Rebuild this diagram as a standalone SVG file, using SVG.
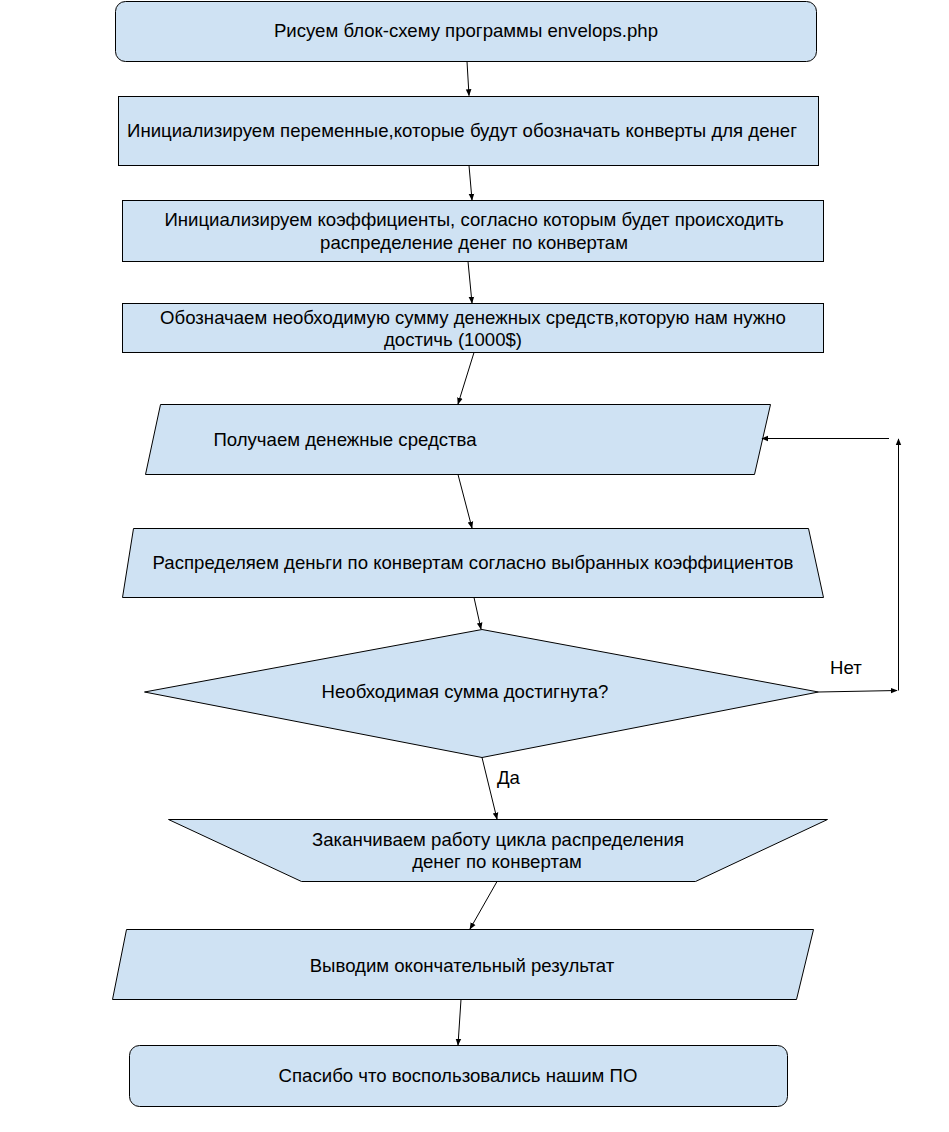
<svg xmlns="http://www.w3.org/2000/svg" width="949" height="1132" viewBox="0 0 949 1132">
<defs>
<marker id="ah" viewBox="0 0 10 10" refX="9" refY="5" markerWidth="7" markerHeight="7" orient="auto" markerUnits="userSpaceOnUse">
<path d="M0,1 L10,5 L0,9 z" fill="#000"/>
</marker>
<style>
.s{fill:#cfe2f3;stroke:#000;stroke-width:1}
.t{font-family:"Liberation Sans",Arial,sans-serif;font-size:18.6px;fill:#000;text-anchor:middle}
.l{font-family:"Liberation Sans",Arial,sans-serif;font-size:18.6px;fill:#000}
.c{fill:none;stroke:#000;stroke-width:1;marker-end:url(#ah)}
</style>
</defs>
<rect width="949" height="1132" fill="#fff"/>
<g id="n1"><rect class="s" x="115.5" y="1.5" width="701" height="60" rx="10"/><text class="t" x="466" y="37">Рисуем блок-схему программы envelops.php</text></g>
<g id="n2"><rect class="s" x="118.5" y="96.5" width="700" height="69"/><text class="t" x="462" y="137">Инициализируем переменные,которые будут обозначать конверты для денег</text></g>
<g id="n3"><rect class="s" x="122.5" y="200.5" width="701" height="61"/><text class="t" x="474" y="226">Инициализируем коэффициенты, согласно которым будет происходить</text><text class="t" x="474" y="249">распределение денег по конвертам</text></g>
<g id="n4"><rect class="s" x="122.5" y="303.5" width="701" height="49"/><text class="t" x="473" y="324">Обозначаем необходимую сумму денежных средств,которую нам нужно</text><text class="t" x="453" y="346">достичь (1000$)</text></g>
<g id="n5"><polygon class="s" points="160.5,404.5 770.5,404.5 754.5,474.5 145.5,474.5"/><text class="t" x="345" y="446">Получаем денежные средства</text></g>
<g id="n6"><polygon class="s" points="133.5,528.5 808.5,528.5 823.5,597.5 122.5,597.5"/><text class="t" x="473" y="569">Распределяем деньги по конвертам согласно выбранных коэффициентов</text></g>
<g id="n7"><polygon class="s" points="482,629.5 818.5,692 482,757.5 144.5,692"/><text class="t" x="465" y="698">Необходимая сумма достигнута?</text></g>
<g id="n8"><polygon class="s" points="168.5,819.5 827.5,819.5 695.5,881.5 301.5,881.5"/><text class="t" x="498" y="846">Заканчиваем работу цикла распределения</text><text class="t" x="497" y="868">денег по конвертам</text></g>
<g id="n9"><polygon class="s" points="126.5,929.5 813.5,929.5 796.5,999.5 112.5,999.5"/><text class="t" x="462" y="972">Выводим окончательный результат</text></g>
<g id="n10"><rect class="s" x="129.5" y="1045.5" width="658" height="61" rx="10"/><text class="t" x="458" y="1082">Спасибо что воспользовались нашим ПО</text></g>
<g id="connectors">
<path class="c" d="M467,61.5 L469,95.5"/>
<path class="c" d="M469,165.5 L472,200"/>
<path class="c" d="M468,261.5 L472,303"/>
<path class="c" d="M474,352.5 L458,404"/>
<path class="c" d="M458,474.5 L472,528"/>
<path class="c" d="M474,597.5 L481,629"/>
<path class="c" d="M482,757.5 L497,819"/>
<path class="c" d="M497,881.5 L470,929"/>
<path class="c" d="M461,999.5 L458,1045"/>
<path class="c" d="M818.5,692 L897,690.5"/>
<path class="c" d="M898.5,690.5 L898.5,439"/>
<path class="c" d="M889,438.5 L762,438.5"/>
<text class="l" x="830" y="674">Нет</text>
<text class="l" x="497" y="784">Да</text>
</g>
</svg>
